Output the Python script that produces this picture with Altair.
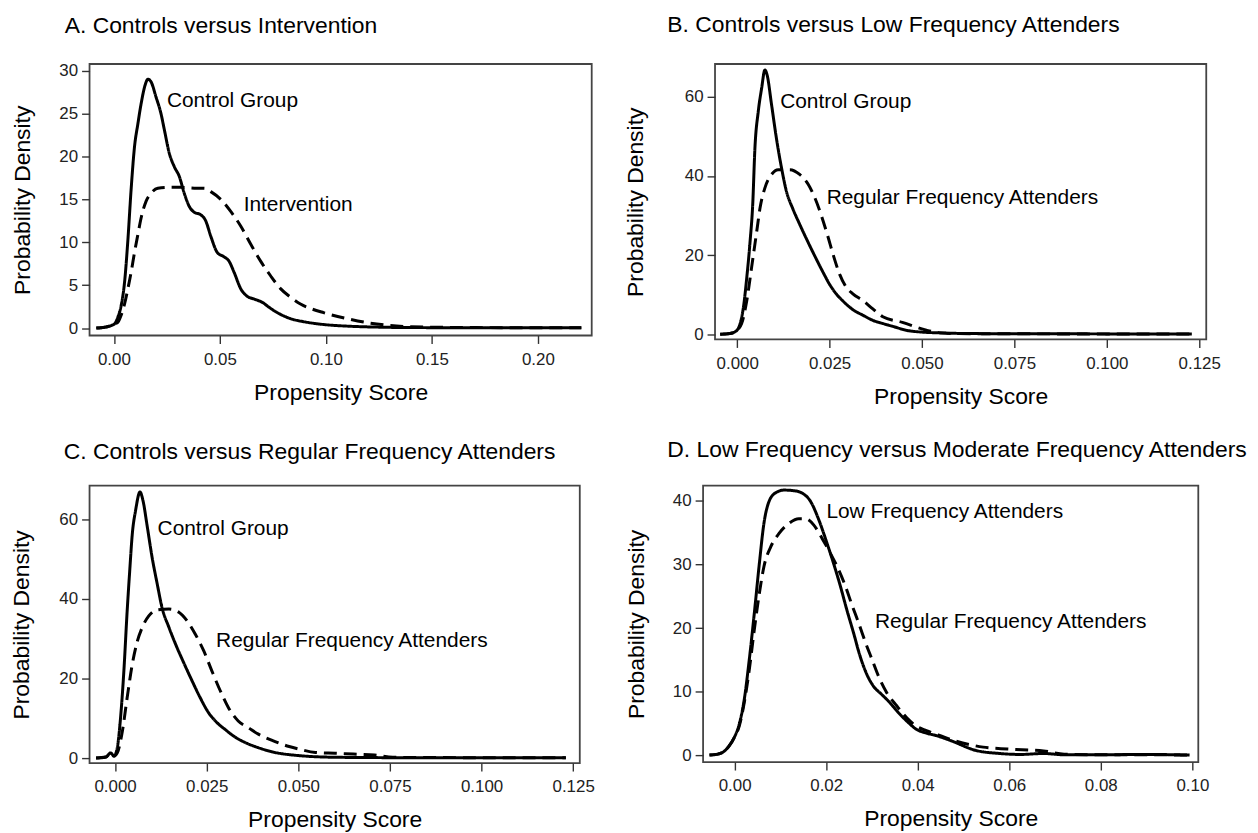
import altair as alt
import pandas as pd

FONT = "Liberation Sans"

# ---------------- Panel A ----------------
A_title = "A. Controls versus Intervention"
A_s1_name, A_s2_name = "Control Group", "Intervention"
A_s1_x = [-0.0083, -0.0044, -0.0013, 0.0003, 0.0019, 0.0034, 0.005, 0.0066, 0.0081, 0.0097, 0.0113, 0.0128,
          0.0147, 0.016, 0.0175, 0.0199, 0.0222, 0.0238, 0.0261, 0.0285, 0.0308, 0.0332, 0.0355, 0.0379, 0.041,
          0.0433, 0.0457, 0.0488, 0.052, 0.0543, 0.0567, 0.0598, 0.0629, 0.066, 0.07, 0.0739, 0.0786, 0.0833,
          0.0895, 0.0997, 0.11, 0.1255, 0.14, 0.16, 0.18, 0.2, 0.2205]
A_s1_y = [0, 0.1, 0.3, 0.5, 1.3, 2.6, 5.3, 10.3, 16.1, 21.1, 23.8, 26.1, 28.3, 29.0, 28.7, 26.9, 25.0, 23.1,
          20.4, 18.8, 17.7, 15.7, 14.2, 13.5, 13.2, 12.5, 10.7, 8.8, 8.3, 7.8, 6.5, 4.6, 3.7, 3.4, 3.0, 2.3,
          1.6, 1.1, 0.75, 0.4, 0.23, 0.11, 0.06, 0.05, 0.04, 0.04, 0.03]
A_s2_x = [-0.0083, -0.0044, -0.0013, 0.0003, 0.0019, 0.0034, 0.005, 0.0066, 0.0081, 0.0097, 0.0113, 0.0128,
          0.0152, 0.0175, 0.0207, 0.0254, 0.0316, 0.0379, 0.0426, 0.0457, 0.0504, 0.0551, 0.0598, 0.0645,
          0.0692, 0.0739, 0.0786, 0.0833, 0.088, 0.0926, 0.0989, 0.11, 0.1208, 0.1333, 0.149, 0.17, 0.19,
          0.21, 0.2205]
A_s2_y = [0, 0.1, 0.3, 0.5, 0.7, 1.5, 2.8, 4.6, 6.5, 8.8, 10.9, 12.8, 14.8, 15.7, 16.3, 16.4, 16.4, 16.3,
          16.3, 15.9, 15.0, 13.6, 11.9, 9.8, 7.8, 6.1, 4.6, 3.6, 2.8, 2.3, 1.8, 1.1, 0.58, 0.25, 0.11, 0.06,
          0.05, 0.04, 0.03]
A_lab_text = ["Control Group", "Intervention"]
A_lab_x = [0.025, 0.0612]
A_lab_y = [26.5, 14.3]
A_xticks = [0.0, 0.05, 0.10, 0.15, 0.20]
A_yticks = [0, 5, 10, 15, 20, 25, 30]

# ---------------- Panel B ----------------
B_title = "B. Controls versus Low Frequency Attenders"
B_s1_name, B_s2_name = "Control Group", "Regular Frequency Attenders"
B_s1_x = [-0.0046, -0.0019, -0.0003, 0.0008, 0.0017, 0.0026, 0.0035, 0.0042, 0.0048, 0.0057, 0.0066, 0.0075,
          0.0081, 0.0093, 0.0106, 0.012, 0.0133, 0.0151, 0.0169, 0.0192, 0.0214, 0.0232, 0.025, 0.0268,
          0.0286, 0.0313, 0.034, 0.0367, 0.0394, 0.042, 0.0469, 0.0557, 0.065, 0.08, 0.1, 0.123]
B_s1_y = [0, 0.2, 0.8, 2.7, 6.9, 14.4, 23.6, 32.8, 47.1, 56.3, 62.1, 66.8, 65.5, 58.0, 49.6, 42.0, 36.2,
          31.6, 27.8, 23.2, 19.0, 15.7, 12.6, 10.2, 8.4, 6.2, 4.8, 3.5, 2.7, 2.0, 0.8, 0.3, 0.15, 0.1, 0.08,
          0.05]
B_s2_x = [-0.0046, -0.0019, -0.0003, 0.0012, 0.0026, 0.0039, 0.0053, 0.0062, 0.0075, 0.0093, 0.0111, 0.0142,
          0.0169, 0.0192, 0.021, 0.0228, 0.0246, 0.0259, 0.0277, 0.0295, 0.0313, 0.034, 0.0367, 0.0394,
          0.0447, 0.0512, 0.0545, 0.06, 0.07, 0.085, 0.1, 0.123]
B_s2_y = [0, 0.2, 0.8, 2.7, 8.5, 16.9, 26.1, 32.0, 37.0, 40.4, 41.6, 41.6, 40.4, 37.9, 34.5, 29.9, 24.5,
          20.3, 15.2, 11.9, 10.2, 8.5, 6.4, 4.4, 3.0, 1.0, 0.4, 0.15, 0.1, 0.08, 0.06, 0.05]
B_lab_text = ["Control Group", "Regular Frequency Attenders"]
B_lab_x = [0.01163, 0.0242]
B_lab_y = [58.8, 34.5]
B_xticks = [0.0, 0.025, 0.05, 0.075, 0.10, 0.125]
B_yticks = [0, 20, 40, 60]

# ---------------- Panel C ----------------
C_title = "C. Controls versus Regular Frequency Attenders"
C_s1_name, C_s2_name = "Control Group", "Regular Frequency Attenders"
C_s1_x = [-0.0052, -0.0025, -0.0012, -0.0003, 0.0006, 0.0015, 0.0024, 0.0033, 0.004, 0.0047, 0.0056, 0.0068,
          0.0076, 0.0088, 0.0101, 0.0115, 0.0128, 0.0147, 0.0165, 0.0187, 0.021, 0.0232, 0.0255, 0.0278, 0.03,
          0.0327, 0.0355, 0.0391, 0.0427, 0.0504, 0.06, 0.075, 0.09, 0.105, 0.123]
C_s1_y = [0, 0.25, 1.3, 0.5, 2.6, 10.2, 21.9, 37.0, 47.1, 56.3, 62.2, 66.8, 64.7, 58.0, 50.4, 43.7, 37.8,
          32.8, 28.6, 24.0, 19.4, 15.2, 11.4, 8.9, 7.2, 5.3, 3.9, 2.6, 1.6, 0.6, 0.2, 0.1, 0.08, 0.06, 0.05]
C_s2_x = [-0.0052, -0.0025, -0.0012, -0.0003, 0.0006, 0.002, 0.0033, 0.0047, 0.0061, 0.0074, 0.0092, 0.0115,
          0.0147, 0.0174, 0.0196, 0.0219, 0.0242, 0.0264, 0.0287, 0.0309, 0.0336, 0.0364, 0.0391, 0.0427,
          0.0475, 0.0504, 0.0547, 0.06, 0.065, 0.0708, 0.0758, 0.09, 0.105, 0.123]
C_s2_y = [0, 0.25, 1.3, 0.5, 1.3, 6.8, 15.2, 23.6, 29.4, 32.8, 35.7, 37.2, 37.4, 36.6, 34.5, 31.1, 26.9,
          21.9, 16.9, 12.7, 9.3, 7.6, 6.0, 4.5, 2.9, 2.2, 1.4, 1.2, 1.0, 0.75, 0.2, 0.12, 0.08, 0.05]
C_lab_text = ["Control Group", "Regular Frequency Attenders"]
C_lab_x = [0.01159, 0.02757]
C_lab_y = [57.6, 29.4]
C_xticks = [0.0, 0.025, 0.05, 0.075, 0.10, 0.125]
C_yticks = [0, 20, 40, 60]

# ---------------- Panel D ----------------
D_title = "D. Low Frequency versus Moderate Frequency Attenders"
D_s1_name, D_s2_name = "Low Frequency Attenders", "Regular Frequency Attenders"
D_s1_x = [-0.0055, -0.0037, -0.0022, -0.0012, -0.0001, 0.001, 0.0021, 0.0032, 0.0043, 0.0054, 0.0064, 0.0075,
          0.009, 0.0108, 0.013, 0.0148, 0.0166, 0.0184, 0.0202, 0.0216, 0.0231, 0.0245, 0.026, 0.0274, 0.0289,
          0.0303, 0.0321, 0.0339, 0.0358, 0.0376, 0.0397, 0.0419, 0.0441, 0.0473, 0.0526, 0.0579, 0.0625,
          0.0675, 0.072, 0.08, 0.09, 0.0994]
D_s1_y = [0.05, 0.2, 0.7, 1.5, 2.8, 4.9, 8.8, 15.1, 22.4, 30.2, 36.5, 39.9, 41.3, 41.7, 41.6, 41.2, 39.9,
          37.0, 33.3, 30.2, 26.6, 22.9, 19.2, 15.6, 12.7, 10.9, 9.6, 8.3, 6.7, 5.4, 4.1, 3.5, 3.1, 2.3, 0.8,
          0.3, 0.15, 0.3, 0.1, 0.1, 0.15, 0.05]
D_s2_x = [-0.0055, -0.0037, -0.0022, -0.0012, -0.0001, 0.001, 0.0021, 0.0032, 0.0043, 0.0054, 0.0064, 0.0079,
          0.0097, 0.0119, 0.014, 0.0155, 0.0173, 0.0191, 0.0209, 0.0227, 0.0242, 0.0256, 0.0271, 0.0285, 0.03,
          0.0314, 0.0332, 0.0354, 0.0376, 0.0397, 0.0419, 0.0441, 0.0481, 0.0543, 0.0596, 0.0675, 0.072,
          0.08, 0.09, 0.0994]
D_s2_y = [0.05, 0.2, 0.7, 1.5, 2.8, 4.6, 8.3, 13.5, 19.8, 25.5, 29.7, 32.8, 34.9, 36.5, 37.2, 37.2, 36.2,
          34.1, 31.8, 29.2, 26.6, 23.7, 20.8, 17.9, 15.1, 12.5, 9.9, 7.8, 5.9, 4.6, 3.9, 3.3, 2.3, 1.3, 1.0,
          0.7, 0.2, 0.1, 0.1, 0.05]
D_lab_text = ["Low Frequency Attenders", "Regular Frequency Attenders"]
D_lab_x = [0.02004, 0.03064]
D_lab_y = [38.3, 21.0]
D_xticks = [0.0, 0.02, 0.04, 0.06, 0.08, 0.10]
D_yticks = [0, 10, 20, 30, 40]


def panel(title, s1_name, s1_x, s1_y, s2_name, s2_x, s2_y, lab_text, lab_x, lab_y,
          xticks, yticks, xfmt, xdom, ydom, w, h, title_dx, title_offset, ytitle_pad):
    df = pd.concat([
        pd.DataFrame({"x": s1_x, "y": s1_y, "g": "s1"}),
        pd.DataFrame({"x": s2_x, "y": s2_y, "g": "s2"}),
    ], ignore_index=True)
    lab = pd.DataFrame({"label": lab_text, "x": lab_x, "y": lab_y})
    xs = alt.Scale(domain=xdom, nice=False, zero=False)
    ys = alt.Scale(domain=ydom, nice=False, zero=False)
    lines = alt.Chart(df).mark_line(color="black", strokeWidth=3, interpolate="monotone",
                                    clip=True).encode(
        x=alt.X("x:Q", scale=xs,
                axis=alt.Axis(values=xticks, format=xfmt, title="Propensity Score")),
        y=alt.Y("y:Q", scale=ys,
                axis=alt.Axis(values=yticks, title="Probability Density", titlePadding=ytitle_pad)),
        strokeDash=alt.StrokeDash("g:N", scale=alt.Scale(domain=["s1", "s2"], range=[[1, 0], [13, 7]]),
                                  legend=None),
        detail="g:N",
    )
    texts = alt.Chart(lab).mark_text(align="left", baseline="middle", fontSize=21, font=FONT,
                                     color="black").encode(
        x=alt.X("x:Q", scale=xs), y=alt.Y("y:Q", scale=ys), text="label:N")
    return alt.layer(lines, texts).properties(
        width=w, height=h,
        title=alt.Title(title, anchor="start", frame="group", dx=title_dx, offset=title_offset,
                        fontSize=23, font=FONT, fontWeight="normal", color="black",
                        baseline="alphabetic"),
    )


pA = panel(A_title, A_s1_name, A_s1_x, A_s1_y, A_s2_name, A_s2_x, A_s2_y, A_lab_text, A_lab_x, A_lab_y,
           A_xticks, A_yticks, ".2f", [-0.0115, 0.2254], [-0.86, 30.77], 505, 273, -25, 6, 24)
pB = panel(B_title, B_s1_name, B_s1_x, B_s1_y, B_s2_name, B_s2_x, B_s2_y, B_lab_text, B_lab_x, B_lab_y,
           B_xticks, B_yticks, ".3f", [-0.006, 0.1269], [-1.33, 68.3], 494, 277, -48, 9, 37)
pC = panel(C_title, C_s1_name, C_s1_x, C_s1_y, C_s2_name, C_s2_x, C_s2_y, C_lab_text, C_lab_x, C_lab_y,
           C_xticks, C_yticks, ".3f", [-0.00697, 0.1268], [-1.26, 68.4], 493, 279, -26, 4, 25)
pD = panel(D_title, D_s1_name, D_s1_x, D_s1_y, D_s2_name, D_s2_x, D_s2_y, D_lab_text, D_lab_x, D_lab_y,
           D_xticks, D_yticks, ".2f", [-0.0069, 0.1013], [-1.05, 42.4], 498, 278, -36, 6, 24)

top = alt.hconcat(pA, pB, spacing=31)
bottom = alt.hconcat(pC, pD, spacing=29)
chart = alt.vconcat(top, bottom, spacing=29).properties(
    padding={"left": 2, "top": 3, "right": 0, "bottom": 0}
).configure_view(
    stroke="#444", strokeWidth=1.8
).configure_axis(
    domain=False, grid=False, tickColor="#333", tickWidth=1.4, tickSize=8,
    labelFont=FONT, labelFontSize=17, labelColor="#222", labelPadding=4,
    titleFont=FONT, titleFontSize=23, titleFontWeight="normal", titleColor="black",
).configure_axisX(titlePadding=14, labelPadding=8).configure_concat(spacing=20)

chart.save("out.html", embed_options={"renderer": "svg", "actions": False})
